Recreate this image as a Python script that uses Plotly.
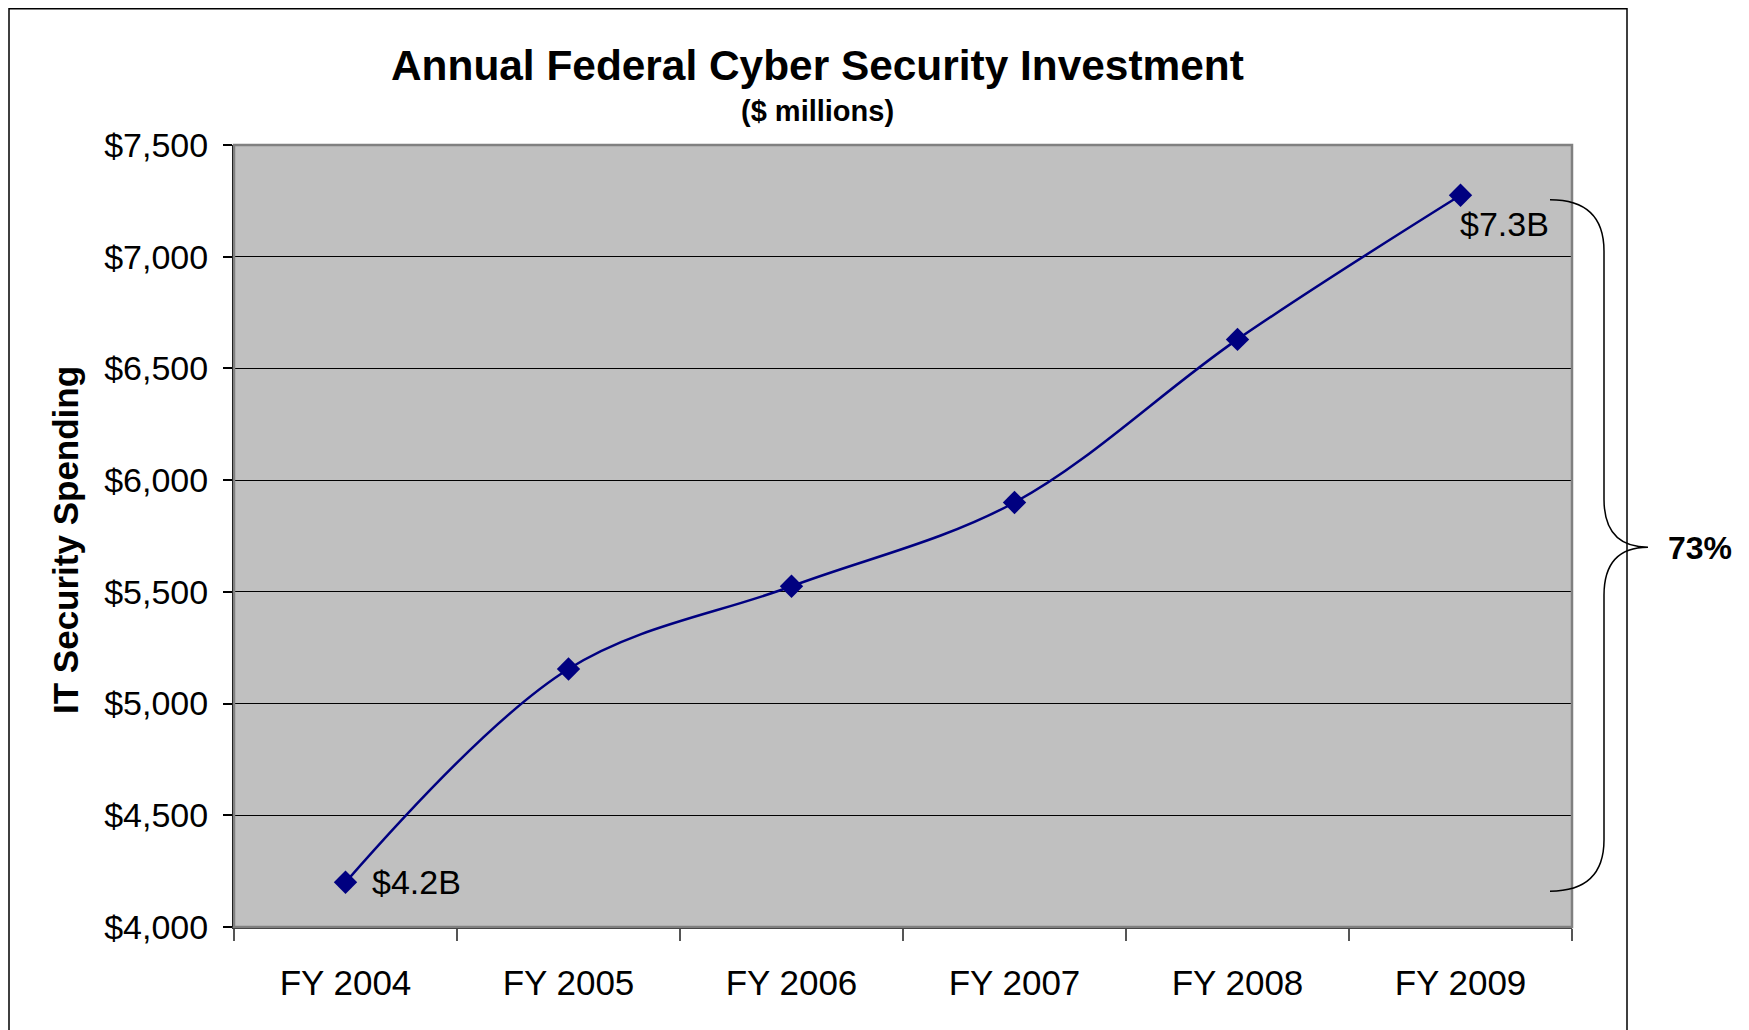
import plotly.graph_objects as go

# ---- data ----
categories = ["FY 2004", "FY 2005", "FY 2006", "FY 2007", "FY 2008", "FY 2009"]
spending = [4200, 5155, 5525, 5900, 6630, 7275]
label_points = ["FY 2004", "FY 2009"]
label_values = [4200, 7275]
label_texts = ["$4.2B", "$7.3B"]
y_ticks = [4000, 4500, 5000, 5500, 6000, 6500, 7000, 7500]
y_tick_text = ["$4,000", "$4,500", "$5,000", "$5,500", "$6,000", "$6,500", "$7,000", "$7,500"]
growth_text = "73%"

FONT = "Liberation Sans, Arial, sans-serif"
NAVY = "#000080"

OFF = 8                       # page body margin
W, H = 1749 - OFF, 1030 - OFF
L, R, T, B = 234, 1572, 145, 927  # plot area in page pixels


def px_x(p):
    return (p - L) / (R - L)


def px_y(p):
    return (B - p) / (B - T)


fig = go.Figure()
fig.add_trace(go.Scatter(
    x=categories, y=spending, mode="lines+markers",
    line=dict(color=NAVY, width=2.5, shape="spline", smoothing=1),
    marker=dict(symbol="diamond", size=18, color=NAVY),
    hoverinfo="skip", showlegend=False,
))

annotations = []
offsets = [(24, 0, "left", "middle"), (-3, -8, "left", "top")]
for xp, yv, txt, (dx, dy, xa, ya) in zip(label_points, label_values, label_texts, offsets):
    annotations.append(dict(x=xp, y=yv, xref="x", yref="y", text=txt, showarrow=False,
                            xanchor=xa, yanchor=ya, xshift=dx, yshift=dy,
                            font=dict(family=FONT, size=34, color="#000")))
annotations.append(dict(x=px_x(817), y=px_y(65), xref="paper", yref="paper",
                        text="<b>Annual Federal Cyber Security Investment</b>", showarrow=False,
                        xanchor="center", yanchor="middle",
                        font=dict(family=FONT, size=42.4, color="#000")))
annotations.append(dict(x=px_x(817), y=px_y(111), xref="paper", yref="paper",
                        text="<b>($ millions)</b>", showarrow=False,
                        xanchor="center", yanchor="middle",
                        font=dict(family=FONT, size=29, color="#000")))
annotations.append(dict(x=px_x(65), y=px_y(540), xref="paper", yref="paper",
                        text="<b>IT Security Spending</b>", showarrow=False, textangle=-90,
                        xanchor="center", yanchor="middle",
                        font=dict(family=FONT, size=35, color="#000")))
annotations.append(dict(x=px_x(1666), y=px_y(548), xref="paper", yref="paper",
                        text="<b>" + growth_text + "</b>", showarrow=False,
                        xanchor="left", yanchor="middle",
                        font=dict(family=FONT, size=32, color="#000")))

# brace (x in paper, y in data units)
xe, xv, xt = px_x(1550), px_x(1604), px_x(1648)
yt, yvs, yve, ytip, y2s, y2e, yb = 7255, 7025, 5915, 5700, 5485, 4390, 4160
brace = (f"M {xe},{yt} Q {xv},{yt} {xv},{yvs} L {xv},{yve} Q {xv},{ytip} {xt},{ytip} "
         f"Q {xv},{ytip} {xv},{y2s} L {xv},{y2e} Q {xv},{yb} {xe},{yb}")

shapes = [
    dict(type="rect", xref="paper", yref="paper", x0=0, y0=0, x1=1, y1=1,
         line=dict(color="#808080", width=2.5), layer="above"),
    dict(type="path", xref="paper", yref="paper",
         path=f"M {px_x(9)},{px_y(1045)} L {px_x(9)},{px_y(8.8)} L {px_x(1627)},{px_y(8.8)} L {px_x(1627)},{px_y(1045)}",
         line=dict(color="#000", width=1.5)),
    dict(type="path", xref="paper", yref="y", path=brace,
         line=dict(color="#000", width=1.5)),
]

fig.update_layout(
    width=W, height=H,
    margin=dict(l=L - OFF, r=1749 - R, t=T - OFF, b=1030 - B),
    paper_bgcolor="white", plot_bgcolor="#C0C0C0",
    annotations=annotations, shapes=shapes,
    font=dict(family=FONT, color="#000"),
)
fig.update_xaxes(
    type="category", range=[-0.5, 5.5], tickson="boundaries",
    ticks="outside", ticklen=12, tickwidth=1.5, tickcolor="#555",
    showline=True, linecolor="#333", linewidth=2,
    showgrid=False, tickfont=dict(family=FONT, size=35, color="#000"),
    ticklabelstandoff=24,
)
fig.update_yaxes(
    range=[4000, 7500], tickvals=y_ticks, ticktext=y_tick_text,
    ticks="outside", ticklen=9, tickwidth=1.5, tickcolor="#000",
    showline=True, linecolor="#000", linewidth=2,
    showgrid=True, gridcolor="#000", gridwidth=1,
    zeroline=False, tickfont=dict(family=FONT, size=34, color="#000"),
    ticklabelstandoff=8,
)

fig.write_html("out.html")
